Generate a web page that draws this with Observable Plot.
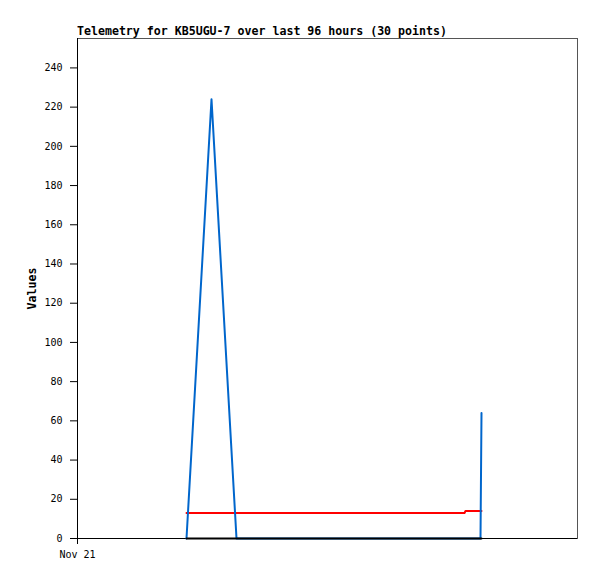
<!DOCTYPE html>
<html>
<head>
<meta charset="utf-8">
<script src="https://cdn.jsdelivr.net/npm/d3@7"></script>
<script src="https://cdn.jsdelivr.net/npm/@observablehq/plot@0.6"></script>
<style>
  html, body { margin: 0; padding: 0; background: #fff; }
  #wrap { position: relative; width: 597px; height: 579px; }
  #title { position: absolute; left: 77px; top: 24px; font: bold 11.6px "DejaVu Sans Mono", monospace; color: #000; white-space: nowrap; }
</style>
</head>
<body>
<div id="wrap"><div id="title">Telemetry for KB5UGU-7 over last 96 hours (30 points)</div></div>
<script>
// Minutes after Nov 21 00:00 (UTC) and values
const blueMinutes = [109, 134, 159, 403, 404];
const blueValues  = [0, 224, 0, 0, 64];
const redMinutes  = [109, 387, 388, 404];
const redValues   = [13, 13, 14, 14];
const blackMinutes = [109, 404];
const blackValues  = [0, 0];
const yTicks = [0, 20, 40, 60, 80, 100, 120, 140, 160, 180, 200, 220, 240];
const xTickLabels = ["Nov 21"];
const start = Date.UTC(2023, 10, 21, 0, 0);
const toDate = m => new Date(start + m * 60000);
const series = (mins, vals) => mins.map((m, i) => ({t: toDate(m), v: vals[i]}));
const blue = series(blueMinutes, blueValues);
const red = series(redMinutes, redValues);
const black = series(blackMinutes, blackValues);
const xTicks = [toDate(0)];

const chart = Plot.plot({
  width: 597,
  height: 579,
  marginTop: 38,
  marginBottom: 41,
  marginLeft: 77,
  marginRight: 20,
  style: {fontFamily: "DejaVu Sans Mono, monospace", fontSize: "10px", color: "#000", background: "#fff"},
  x: {type: "utc", domain: [toDate(0), toDate(500)]},
  y: {domain: [0, 255]},
  marks: [
    Plot.frame({stroke: "#555"}),
    Plot.axisY({ticks: yTicks, tickSize: 7, tickPadding: 8, label: null, tickFormat: d => String(d)}),
    Plot.axisX({ticks: xTicks, tickSize: 6, tickPadding: 6, label: null, tickFormat: (d, i) => xTickLabels[i]}),
    Plot.ruleX([toDate(0)], {stroke: "#000"}),
    Plot.ruleY([0], {stroke: "#000"}),
    Plot.lineY(red, {x: "t", y: "v", stroke: "#ff0000", strokeWidth: 2, curve: "linear"}),
    Plot.lineY(blue, {x: "t", y: "v", stroke: "#0066cc", strokeWidth: 2, curve: "linear"}),
    Plot.lineY(black, {x: "t", y: "v", stroke: "#000", strokeWidth: 2, curve: "linear"}),
    Plot.text(["Values"], {frameAnchor: "left", dx: -45, rotate: -90, fontWeight: "bold", fontSize: 11.6, textAnchor: "middle"})
  ]
});
document.getElementById("wrap").appendChild(chart);
</script>
</body>
</html>
